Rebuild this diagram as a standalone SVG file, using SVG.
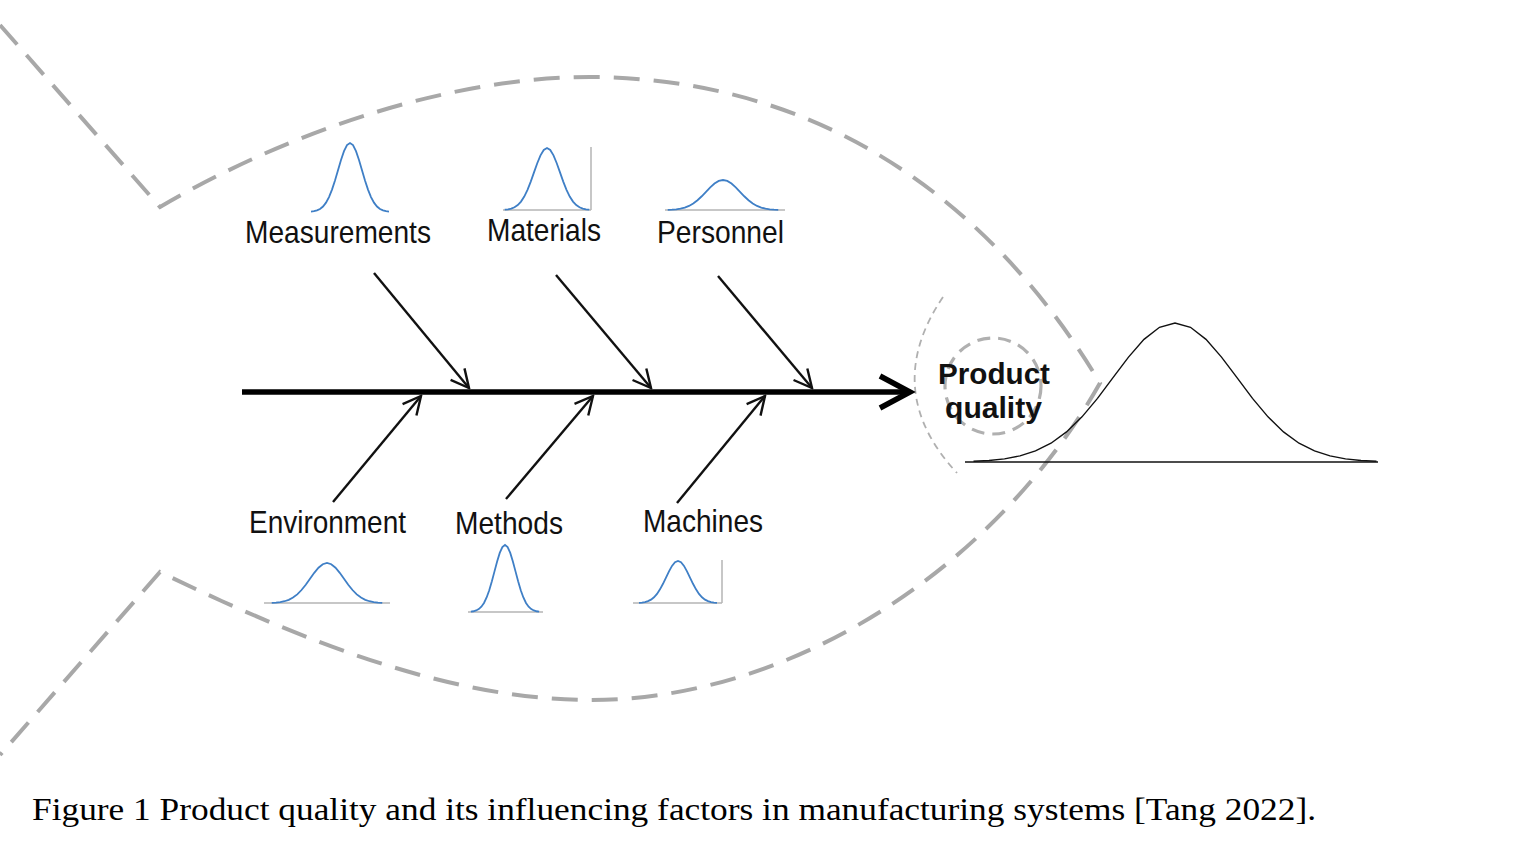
<svg xmlns="http://www.w3.org/2000/svg" width="1516" height="851" viewBox="0 0 1516 851">
<style>
.outline{fill:none;stroke:#a8a8a8;stroke-width:4;stroke-dasharray:26 14}
.headarc{fill:none;stroke:#b0b0b0;stroke-width:1.8;stroke-dasharray:7 5}
.ring{fill:none;stroke:#b0b0b0;stroke-width:3.2;stroke-dasharray:13 8}
.branch{fill:none;stroke:#111;stroke-width:2.4;marker-end:url(#ah)}
.spine{fill:none;stroke:#000;stroke-width:5.5;marker-end:url(#ahBig)}
.lbl{font-family:"Liberation Sans",Arial,sans-serif;font-size:32px;fill:#111}
.pq{font-family:"Liberation Sans",Arial,sans-serif;font-size:30px;font-weight:bold;fill:#111}
.cap{font-family:"Liberation Serif","Times New Roman",serif;font-size:32px;fill:#000}
.bell{stroke:#3f7fc6;stroke-width:1.8}
.bigbell{stroke:#111;stroke-width:1.4}
.axis{fill:none;stroke:#b5b5b5;stroke-width:1.5}
</style>
<defs>
<marker id="ah" markerUnits="userSpaceOnUse" viewBox="0 0 22 22" refX="20" refY="11" markerWidth="22" markerHeight="22" orient="auto">
<path d="M2,2 L20,11 L2,20" fill="none" stroke="#111" stroke-width="2.4"/>
</marker>
<marker id="ahBig" markerUnits="userSpaceOnUse" viewBox="0 0 40 40" refX="34" refY="20" markerWidth="40" markerHeight="40" orient="auto">
<path d="M4,4 L34,20 L4,36" fill="none" stroke="#000" stroke-width="5.5" stroke-linejoin="miter"/>
</marker>
<path id="g" fill="none" vector-effect="non-scaling-stroke" d="M-325,-0.51 L-300,-1.11 L-275,-2.28 L-250,-4.39 L-225,-7.96 L-200,-13.53 L-175,-21.63 L-150,-32.47 L-125,-45.78 L-100,-60.65 L-75,-75.48 L-50,-88.25 L-25,-96.92 L0,-100 L25,-96.92 L50,-88.25 L75,-75.48 L100,-60.65 L125,-45.78 L150,-32.47 L175,-21.63 L200,-13.53 L225,-7.96 L250,-4.39 L275,-2.28 L300,-1.11 L325,-0.51"/>
</defs>
<rect width="1516" height="851" fill="#fff"/>

<g id="fish-outline">
<path class="outline" d="M0,25 L160,207 C300,125 460,77 590,77 C820,78 990,200 1100,383 C1000,560 800,700 590,700 C450,700 300,640 160,572 L0,755"/>
<path class="headarc" d="M943,297 Q880,390 957,473"/>
</g>

<g id="connectors">
<line class="spine" x1="242" y1="392" x2="910" y2="392"/>
<line class="branch" x1="374" y1="273" x2="469" y2="388"/>
<line class="branch" x1="556" y1="275" x2="651" y2="388"/>
<line class="branch" x1="718" y1="276" x2="812" y2="388"/>
<line class="branch" x1="333" y1="502" x2="421" y2="396"/>
<line class="branch" x1="506" y1="499" x2="593" y2="396"/>
<line class="branch" x1="677" y1="503" x2="765" y2="396"/>
</g>

<g id="node-measurements">
<use href="#g" class="bell" transform="translate(350,212) scale(0.12,0.69)"/>
<text class="lbl" x="245" y="243" textLength="186" lengthAdjust="spacingAndGlyphs">Measurements</text>
</g>
<g id="node-materials">
<line class="axis" x1="503" y1="210" x2="591" y2="210"/>
<line class="axis" x1="591" y1="147" x2="591" y2="210"/>
<use href="#g" class="bell" transform="translate(547,210) scale(0.13,0.62)"/>
<text class="lbl" x="487" y="241" textLength="114" lengthAdjust="spacingAndGlyphs">Materials</text>
</g>
<g id="node-personnel">
<line class="axis" x1="665" y1="210" x2="785" y2="210"/>
<use href="#g" class="bell" transform="translate(723,210) scale(0.17,0.30)"/>
<text class="lbl" x="657" y="243" textLength="127" lengthAdjust="spacingAndGlyphs">Personnel</text>
</g>
<g id="node-environment">
<line class="axis" x1="264" y1="603" x2="390" y2="603"/>
<use href="#g" class="bell" transform="translate(327,603) scale(0.17,0.40)"/>
<text class="lbl" x="249" y="533" textLength="157" lengthAdjust="spacingAndGlyphs">Environment</text>
</g>
<g id="node-methods">
<line class="axis" x1="468" y1="612" x2="543" y2="612"/>
<use href="#g" class="bell" transform="translate(505,612) scale(0.105,0.67)"/>
<text class="lbl" x="455" y="534" textLength="108" lengthAdjust="spacingAndGlyphs">Methods</text>
</g>
<g id="node-machines">
<line class="axis" x1="633" y1="603" x2="722" y2="603"/>
<line class="axis" x1="722" y1="560" x2="722" y2="603"/>
<use href="#g" class="bell" transform="translate(678,603) scale(0.12,0.42)"/>
<text class="lbl" x="643" y="532" textLength="120" lengthAdjust="spacingAndGlyphs">Machines</text>
</g>

<g id="node-product-quality">
<circle class="ring" cx="993" cy="386" r="48"/>
<line x1="965" y1="462" x2="1378" y2="462" stroke="#111" stroke-width="1.6"/>
<use href="#g" class="bigbell" transform="translate(1175,462) scale(0.62,1.39)"/>
<text class="pq" x="938" y="384" textLength="112" lengthAdjust="spacingAndGlyphs">Product</text>
<text class="pq" x="945" y="418" textLength="97" lengthAdjust="spacingAndGlyphs">quality</text>
</g>

<text class="cap" x="32" y="820" textLength="1284" lengthAdjust="spacingAndGlyphs">Figure 1 Product quality and its influencing factors in manufacturing systems [Tang 2022].</text>
</svg>
